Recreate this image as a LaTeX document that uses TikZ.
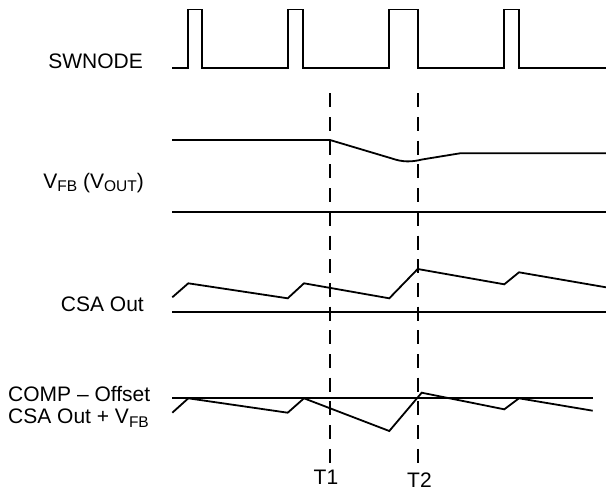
\documentclass[tikz,border=0pt]{standalone}
\usepackage{fontspec}
\setmainfont{Liberation Sans}
\begin{document}
\begin{tikzpicture}[x=1pt,y=-1pt,
  wave/.style={line width=1.8pt,line join=miter},
  marker/.style={line width=1.8pt,dash pattern=on 14pt off 9.7pt},
  lbl/.style={inner sep=0pt,font=\fontsize{21}{25}\selectfont}]
\useasboundingbox (0,0) rectangle (606,491);
\newcommand{\sbs}[1]{\raisebox{-0.3ex}{\fontsize{15.5}{16}\selectfont #1}}
% labels
\node[lbl,anchor=east] (swl) at (143,61.7) {SWNODE};
\node[lbl,anchor=east] (vfbl) at (144,183) {V\sbs{FB} (V\sbs{OUT})};
\node[lbl,anchor=east] (csal) at (144,304) {CSA Out};
\node[lbl,anchor=west] (compl) at (8,394) {COMP -- Offset};
\node[lbl,anchor=west] (sumsl) at (8,418) {CSA Out + V\sbs{FB}};
% marker lines
\coordinate (t1top) at (330,93.3);
\coordinate (t1bot) at (330,463);
\coordinate (t2top) at (417.7,93.3);
\coordinate (t2bot) at (417.7,463);
\draw[marker] (t1top) -- (t1bot);
\draw[marker] (t2top) -- (t2bot);
\node[lbl] (t1) at (326,477.5) {T1};
\node[lbl] (t2) at (419.5,480) {T2};
% SWNODE
\draw[wave] (172,68) -- (188.3,68) -- (188.3,9.5) -- (202.3,9.5) -- (202.3,68)
  -- (288.3,68) -- (288.3,9.5) -- (303.3,9.5) -- (303.3,68)
  -- (388.7,68) -- (388.7,9.5) -- (418.3,9.5) -- (418.3,68)
  -- (504.3,68) -- (504.3,9.5) -- (519,9.5) -- (519,68) -- (606,68);
% VFB
\draw[wave] (172,140) -- (330,140) -- (392,158.5)
  .. controls (402,162) and (411,162.3) .. (422,159.5) -- (460,153.3) -- (606,153.3);
\draw[wave] (172,212.3) -- (606,212.3);
% CSA Out
\draw[wave] (172.3,297.3) -- (188.3,283.3) -- (287.7,298.3) -- (304,283.3)
  -- (389.3,298.3) -- (417.7,269) -- (504.3,284.3) -- (519,272.3) -- (606,287.3);
\draw[wave] (172,311.7) -- (606,311.7);
% COMP - Offset and sum
\draw[wave] (172,397.7) -- (592.7,397.7);
\draw[wave] (172.3,412.7) -- (188.3,398.3) -- (287.7,412.7) -- (304,398.3)
  -- (389.3,431) -- (421.7,392.7) -- (504.3,409.3) -- (519,398.3) -- (592.7,410.7);
\end{tikzpicture}
\end{document}
